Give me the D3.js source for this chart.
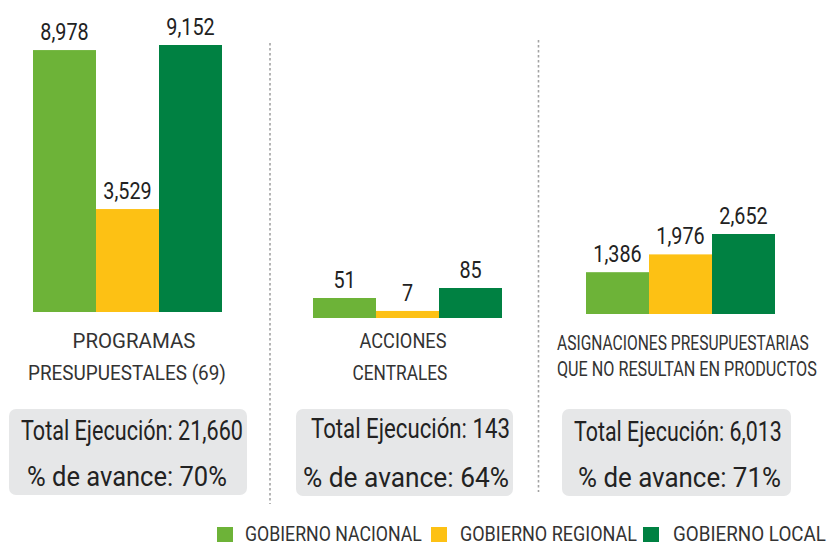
<!DOCTYPE html>
<html>
<head>
<meta charset="utf-8">
<script src="https://cdn.jsdelivr.net/npm/d3@7"></script>
<style>
  html, body { margin: 0; padding: 0; background: #fff; }
  svg { display: block; font-family: Roboto, 'Open Sans', sans-serif; }
</style>
</head>
<body>
<svg id="chart" width="830" height="546"></svg>
<script>
'use strict';

/* ── Data ─────────────────────────────────────────────────── */
const series     = ['GOBIERNO NACIONAL', 'GOBIERNO REGIONAL', 'GOBIERNO LOCAL'];
const categories = [
  ['PROGRAMAS', 'PRESUPUESTALES (69)'],
  ['ACCIONES', 'CENTRALES'],
  ['ASIGNACIONES PRESUPUESTARIAS', 'QUE NO RESULTAN EN PRODUCTOS']
];
const nacional       = [8978, 51, 1386];
const regional       = [3529, 7, 1976];
const local          = [9152, 85, 2652];
const totalEjecucion = [21660, 143, 6013];
const avance         = [70, 64, 71];

/* ── Styles / layout ──────────────────────────────────────── */
const COLORS = ['#6db338', '#fdc114', '#008142'];
const svg = d3.select('#chart');
const fmt = d3.format(',');

/* each panel: bar band start, baseline, y domain/range (own scale per panel) */
const PANELS = [
  { x0: 33,  bottom: 312, domain: [0, 9152], top: 45 },
  { x0: 313, bottom: 318, domain: [-17, 85], top: 288 },
  { x0: 586, bottom: 314, domain: [0, 2652], top: 234 }
];
const BAND_W = 189;

/* category label layout: [cx, width, baseline] per line */
const CAT_LAYOUT = [
  [[134, 123, 348], [127, 198, 380]],
  [[403, 87, 348],  [400, 95, 380]],
  [[683, 252, 350], [687, 260, 376]]
];

/* summary box layout: line = [left x, width, baseline] */
const BOXES = [
  { x: 9,   y: 409, w: 238, h: 86, l1: [21, 222, 440],  l2: [27, 200, 486] },
  { x: 296, y: 409, w: 217, h: 87, l1: [311, 199, 438], l2: [303, 206, 487] },
  { x: 562, y: 409, w: 229, h: 87, l1: [574, 208, 441], l2: [578, 203, 487] }
];

/* separators */
const SEPS = [ { x: 270, y1: 43, y2: 504 }, { x: 538.5, y1: 40, y2: 492 } ];

/* draw a text squeezed horizontally to a given width, left edge at lx */
function fitText(parent, txt, lx, ly, w, size, color) {
  const t = parent.append('text')
    .attr('x', 0).attr('y', 0)
    .attr('font-size', size).attr('fill', color)
    .text(txt);
  const sx = w / t.node().getComputedTextLength();
  t.attr('transform', `translate(${lx},${ly}) scale(${sx},1)`);
  return t;
}

/* ── Separators ── */
SEPS.forEach(s => {
  svg.append('line')
    .attr('x1', s.x).attr('x2', s.x).attr('y1', s.y1).attr('y2', s.y2)
    .attr('stroke', '#a3a3a3').attr('stroke-width', 1.6)
    .attr('stroke-dasharray', '2.5 2.5');
});

/* ── Panels ── */
categories.forEach((cat, pi) => {
  const p = PANELS[pi];
  const vals = [nacional[pi], regional[pi], local[pi]];

  const x = d3.scaleBand().domain(series).range([p.x0, p.x0 + BAND_W]).padding(0);
  const y = d3.scaleLinear().domain(p.domain).range([p.bottom, p.top]);

  const g = svg.append('g');

  g.selectAll('rect.bar')
    .data(series)
    .join('rect')
    .attr('class', 'bar')
    .attr('x', s => x(s))
    .attr('width', x.bandwidth())
    .attr('y', (s, i) => y(vals[i]))
    .attr('height', (s, i) => y(p.domain[0]) - y(vals[i]))
    .attr('fill', (s, i) => COLORS[i]);

  g.selectAll('text.val')
    .data(series)
    .join('text')
    .attr('class', 'val')
    .attr('text-anchor', 'middle')
    .attr('font-size', 23)
    .attr('fill', '#222')
    .attr('transform', (s, i) => `translate(${x(s) + x.bandwidth() / 2},${y(vals[i]) - 10}) scale(0.86,1)`)
    .text((s, i) => fmt(vals[i]));

  /* category label */
  cat.forEach((line, li) => {
    const [cx, w, by] = CAT_LAYOUT[pi][li];
    fitText(svg, line, cx - w / 2, by, w, 20, '#333');
  });

  /* summary box */
  const b = BOXES[pi];
  svg.append('rect')
    .attr('x', b.x).attr('y', b.y).attr('width', b.w).attr('height', b.h)
    .attr('rx', 7).attr('fill', '#e6e7e8');

  const lines = [
    [`Total Ejecución: ${fmt(totalEjecucion[pi])}`, b.l1],
    [`% de avance: ${avance[pi]}%`, b.l2]
  ];
  lines.forEach(([txt, [lx, lw, ly]]) => fitText(svg, txt, lx, ly, lw, 28, '#222'));
});

/* ── Legend ── */
const LEGEND = [
  { sx: 217, tx: 245, tw: 177 },
  { sx: 431, tx: 460, tw: 177 },
  { sx: 643, tx: 673, tw: 153 }
];
series.forEach((s, i) => {
  const l = LEGEND[i];
  svg.append('rect')
    .attr('x', l.sx).attr('y', 527).attr('width', 16).attr('height', 15)
    .attr('fill', COLORS[i]);
  fitText(svg, s, l.tx, 541, l.tw, 20, '#333');
});
</script>
</body>
</html>
